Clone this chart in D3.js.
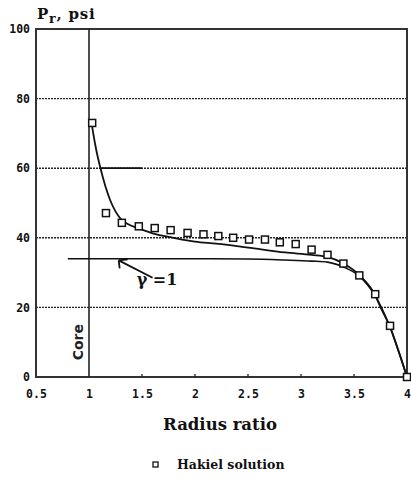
<!DOCTYPE html>
<html><head><meta charset="utf-8">
<script src="https://cdn.jsdelivr.net/npm/d3@7"></script>
<style>body{margin:0;background:#fff}</style>
</head><body>
<svg id="c" width="411" height="479"></svg>
<script>
// ---- data ----
const xTicks = [0.5, 1, 1.5, 2, 2.5, 3, 3.5, 4];
const xTickLabels = ["0.5", "1", "1.5", "2", "2.5", "3", "3.5", "4"];
const yTicks = [0, 20, 40, 60, 80, 100];
const yTickLabels = ["0", "20", "40", "60", "80", "100"];
const gridValues = [20, 40, 60, 80];

const hakielX = [1.03, 1.16, 1.31, 1.47, 1.62, 1.77, 1.93, 2.08, 2.22, 2.36, 2.51, 2.66, 2.80, 2.95, 3.10, 3.25, 3.40, 3.55, 3.70, 3.84, 4.0];
const hakielY = [73.0, 47.1, 44.3, 43.3, 42.8, 42.2, 41.4, 41.0, 40.5, 40.0, 39.5, 39.5, 38.7, 38.2, 36.6, 35.1, 32.6, 29.2, 23.8, 14.7, 0];

const upperX = [1.02, 1.04, 1.07, 1.10, 1.13, 1.16, 1.2, 1.25, 1.3, 1.37, 1.45, 1.6, 1.8, 2.0, 2.2, 2.5, 2.85, 3.1, 3.25, 3.4, 3.55, 3.7, 3.76, 3.84, 3.92, 4.0];
const upperY = [74, 70, 65, 61, 57.5, 54.3, 50.8, 47.6, 45.4, 43.9, 42.9, 41.3, 40.0, 38.9, 38.3, 37.2, 35.8, 35.1, 34.5, 32.6, 29.3, 23.5, 19.4, 14.4, 7.5, 0];

const gammaX = [0.8, 1.0, 1.5, 2.0, 2.5, 2.85, 3.1, 3.25, 3.4, 3.55, 3.7, 3.84, 3.92, 4.0];
const gammaY = [34, 34, 34, 34, 33.9, 33.6, 33.3, 33.0, 31.6, 29.0, 23.3, 14.3, 7.4, 0];

// ---- layout ----
const svg = d3.select("#c");
const x = d3.scaleLinear().domain([0.5, 4]).range([36, 407]);
const y = d3.scaleLinear().domain([0, 100]).range([377, 29]);
const tickFont = "'DejaVu Sans Mono', monospace";

// gridlines
svg.append("g").selectAll("line").data(gridValues).join("line")
  .attr("x1", x(0.5)).attr("x2", x(4))
  .attr("y1", d => y(d)).attr("y2", d => y(d))
  .attr("stroke", "#222").attr("stroke-width", 1.4)
  .attr("stroke-dasharray", "2,1");

// short solid segment at 60
svg.append("line").attr("x1", x(1.1)).attr("x2", x(1.5))
  .attr("y1", y(60)).attr("y2", y(60)).attr("stroke", "#111").attr("stroke-width", 1.8);

// frame
svg.append("rect").attr("x", x(0.5)).attr("y", y(100))
  .attr("width", x(4) - x(0.5)).attr("height", y(0) - y(100))
  .attr("fill", "none").attr("stroke", "#333").attr("stroke-width", 2);

// bottom axis
const xAxis = d3.axisBottom(x).tickValues(xTicks).tickSize(0).tickPadding(13)
  .tickFormat((d, i) => xTickLabels[i]);
const gx = svg.append("g").attr("transform", `translate(0,${y(0)})`).call(xAxis);
gx.select(".domain").remove();
gx.selectAll("text").attr("font-family", tickFont).attr("font-weight", "bold")
  .attr("font-size", 11.5).attr("fill", "#111");
// inward small ticks
svg.append("g").selectAll("line").data(xTicks.slice(2, 7)).join("line")
  .attr("x1", d => x(d)).attr("x2", d => x(d))
  .attr("y1", y(0)).attr("y2", y(0) - 3).attr("stroke", "#222").attr("stroke-width", 1.3);

// left axis
const yAxis = d3.axisLeft(y).tickValues(yTicks).tickSize(0).tickPadding(6)
  .tickFormat((d, i) => yTickLabels[i]);
const gy = svg.append("g").attr("transform", `translate(${x(0.5)},0)`).call(yAxis);
gy.select(".domain").remove();
gy.selectAll("text").attr("font-family", tickFont).attr("font-weight", "bold")
  .attr("font-size", 11.5).attr("fill", "#111");

// core line
svg.append("line").attr("x1", x(1)).attr("x2", x(1))
  .attr("y1", y(100)).attr("y2", y(0)).attr("stroke", "#222").attr("stroke-width", 1.6);
svg.append("text").attr("transform", `translate(${x(1) - 6},${y(10)}) rotate(-90)`)
  .attr("text-anchor", "middle").attr("font-family", "'DejaVu Sans', sans-serif")
  .attr("font-weight", "bold").attr("font-size", 14).attr("fill", "#222").text("Core");

// curves
const line = d3.line().x(d => x(d[0])).y(d => y(d[1])).curve(d3.curveMonotoneX);
svg.append("path").datum(upperX.map((v, i) => [v, upperY[i]]))
  .attr("d", line).attr("fill", "none").attr("stroke", "#111").attr("stroke-width", 1.8);
svg.append("path").datum(gammaX.map((v, i) => [v, gammaY[i]]))
  .attr("d", line).attr("fill", "none").attr("stroke", "#111").attr("stroke-width", 1.6);

// hakiel squares
svg.append("g").selectAll("rect").data(hakielX.map((v, i) => [v, hakielY[i]])).join("rect")
  .attr("x", d => x(d[0]) - 3.5).attr("y", d => y(d[1]) - 3.5)
  .attr("width", 7).attr("height", 7)
  .attr("fill", "#fff").attr("stroke", "#111").attr("stroke-width", 1.5);

// gamma annotation
svg.append("line").attr("x1", x(1.6)).attr("y1", y(28.5))
  .attr("x2", x(1.28)).attr("y2", y(33.5)).attr("stroke", "#111").attr("stroke-width", 1.8);
svg.append("path")
  .attr("d", `M${x(1.28)},${y(33.5)} l9,-1 M${x(1.28)},${y(33.5)} l1,8`)
  .attr("fill", "none").attr("stroke", "#111").attr("stroke-width", 1.8);
svg.append("text").attr("x", x(1.45)).attr("y", y(26.3))
  .attr("font-family", "'DejaVu Serif', serif").attr("font-weight", "bold")
  .attr("font-size", 16).attr("fill", "#111")
  .text("γ =1");

// y title
const t = svg.append("text").attr("x", 37).attr("y", 19)
  .attr("font-family", "'DejaVu Serif', serif").attr("font-weight", "bold")
  .attr("font-size", 15).attr("letter-spacing", 0.8).attr("fill", "#111");
t.append("tspan").text("P");
t.append("tspan").attr("dy", 3.5).attr("font-size", 12.5).text("r");
t.append("tspan").attr("dy", -3.5).text(", psi");

// x title
svg.append("text").attr("x", 220).attr("y", 430).attr("text-anchor", "middle")
  .attr("font-family", "'DejaVu Serif', serif").attr("font-weight", "bold")
  .attr("font-size", 16.5).attr("fill", "#111").text("Radius ratio");

// legend
svg.append("rect").attr("x", 153).attr("y", 462).attr("width", 5).attr("height", 5)
  .attr("fill", "#fff").attr("stroke", "#111").attr("stroke-width", 1.3);
svg.append("text").attr("x", 177).attr("y", 469)
  .attr("font-family", "'DejaVu Serif', serif").attr("font-weight", "bold")
  .attr("font-size", 12.5).attr("fill", "#111").text("Hakiel solution");
</script>
</body></html>
